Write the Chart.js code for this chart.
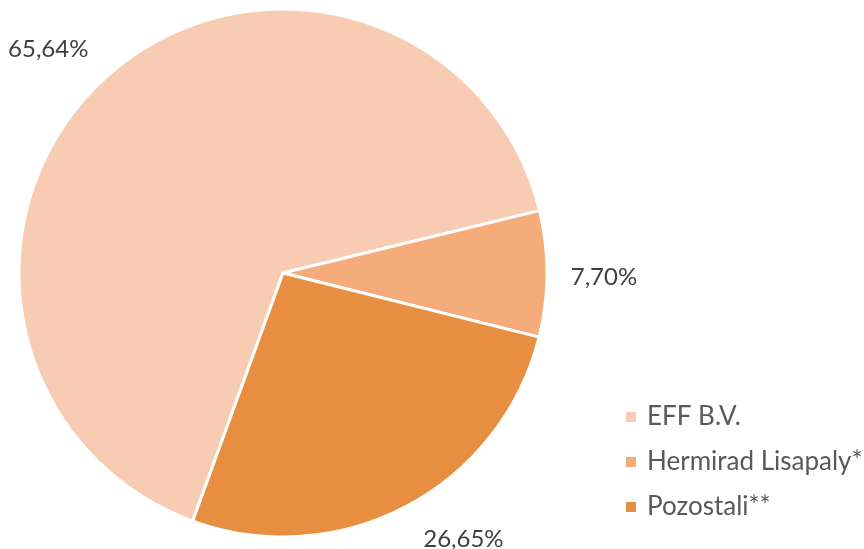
<!DOCTYPE html>
<html>
<head>
<meta charset="utf-8">
<script src="https://cdn.jsdelivr.net/npm/chart.js@4"></script>
<style>
  html, body { margin: 0; padding: 0; background: #ffffff; }
  #wrap { position: relative; width: 864px; height: 549px; }
</style>
</head>
<body>
<div id="wrap"><canvas id="c" width="864" height="549"></canvas></div>
<script>
const categories = ['EFF B.V.', 'Hermirad Lisapaly*', 'Pozostali**'];
const shares = [65.64, 7.70, 26.65];
const colors = ['#F8CBB3', '#F6AB7A', '#E88E41'];

// label placement styling (angle shift in degrees, radial gap in px)
const labelAngleShift = [-4.6, 0.5, -6.1];
const labelGap = [60, 57, 58];

const FONT = 'Lato, "Open Sans", sans-serif';

const pctLabels = {
  id: 'pctLabels',
  afterDatasetsDraw(chart) {
    const ctx = chart.ctx;
    const meta = chart.getDatasetMeta(0);
    ctx.save();
    ctx.font = '24px ' + FONT;
    ctx.fillStyle = '#404040';
    ctx.textAlign = 'center';
    ctx.textBaseline = 'middle';
    meta.data.forEach((arc, i) => {
      const p = arc.getProps(['x', 'y', 'startAngle', 'endAngle', 'outerRadius'], true);
      const a = (p.startAngle + p.endAngle) / 2 + labelAngleShift[i] * Math.PI / 180;
      const r = p.outerRadius + labelGap[i];
      const txt = shares[i].toFixed(2).replace('.', ',') + '%';
      ctx.fillText(txt, p.x + Math.cos(a) * r, p.y + Math.sin(a) * r);
    });
    ctx.restore();
  }
};

const sideLegend = {
  id: 'sideLegend',
  afterDraw(chart) {
    const ctx = chart.ctx;
    ctx.save();
    ctx.font = '26px ' + FONT;
    ctx.textAlign = 'left';
    ctx.textBaseline = 'middle';
    categories.forEach((lab, i) => {
      const y = 417 + i * 45;
      ctx.fillStyle = colors[i];
      ctx.fillRect(626, y - 5, 10, 10);
      ctx.fillStyle = '#595959';
      ctx.fillText(lab, 647, y);
    });
    ctx.restore();
  }
};

new Chart(document.getElementById('c'), {
  type: 'pie',
  data: {
    labels: categories,
    datasets: [{
      data: shares,
      backgroundColor: colors,
      borderColor: '#ffffff',
      borderWidth: 3
    }]
  },
  options: {
    responsive: false,
    animation: false,
    rotation: 200,
    radius: 264,
    layout: { padding: { left: 0, right: 298, top: 1, bottom: 4 } },
    plugins: {
      legend: { display: false },
      tooltip: { enabled: false }
    }
  },
  plugins: [pctLabels, sideLegend]
});
</script>
</body>
</html>
